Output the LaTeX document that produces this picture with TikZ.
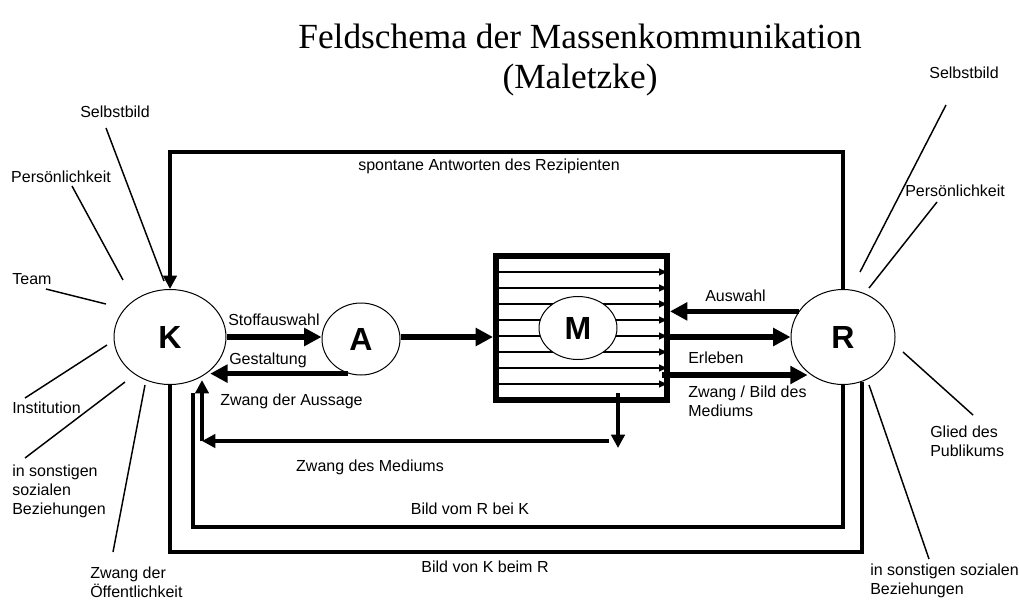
\documentclass[tikz,border=0pt]{standalone}
\usepackage{fontspec}
\setmainfont{Liberation Sans}
\newfontfamily\titlefont{Liberation Serif}
\usetikzlibrary{arrows.meta,shapes.geometric}
\begin{document}
\begin{tikzpicture}[x=0.75pt,y=-0.75pt,
  lbl/.style={font=\fontsize{12}{14.25}\selectfont, inner sep=0pt},
  lblw/.style={lbl, anchor=west, align=left},
  big/.style={ellipse, draw, line width=0.75pt, fill=white, inner sep=0pt, font=\fontsize{24}{28}\selectfont\bfseries},
  thinline/.style={line width=1.1pt},
  heavy/.style={line width=4pt, -{Triangle[length=13pt,width=13pt]}},
  medium/.style={line width=2.5pt, -{Triangle[length=10pt,width=10pt]}},
  loopline/.style={line width=3pt},
  innerline/.style={line width=1.5pt, -{Triangle[length=6pt,width=5pt]}},
  boxframe/.style={draw, line width=4.5pt, inner sep=0pt}
]
\useasboundingbox (0,0) rectangle (1019,604);

% title
\node[font=\titlefont\fontsize{26.5}{30}\selectfont, align=center, inner sep=0pt] (title) at (580,60)
  {Feldschema der Massenkommunikation\\(Maletzke)};

% main nodes
\node[big, minimum width=84pt, minimum height=71.25pt] (K) at (170,337) {K};
\node[big, minimum width=58.5pt, minimum height=54pt] (A) at (361,339) {A};
\node[big, minimum width=78pt, minimum height=71.25pt] (R) at (843,337) {R};

% medium box with inner lines
\foreach \yy in {272,288,...,384} {
  \draw[innerline] (499,\yy) -- (667,\yy);
}
\node[big, minimum width=58.5pt, minimum height=47.25pt] (M) at (578,328) {M};
\node[boxframe, minimum width=128.25pt, minimum height=108pt] (Mbox) at (581.5,328) {};

% K -> A -> M
\draw[heavy] (K.east |- 0,337) -- (A.west |- 0,337);
\node[lblw] (stoff) at (228,320) {Stoffauswahl};
\draw[heavy] (A.east |- 0,337) -- (Mbox.west |- 0,337);

% A -> K (Gestaltung)
\draw[heavy] (A.250) -- (A.250 -| K.-40);
\node[lblw] (gest) at (229,360) {Gestaltung};
\node[lblw] (aussage) at (220,401) {Zwang der Aussage};

% Zwang des Mediums
\coordinate (c1) at (202,441);
\coordinate (c2) at (609,441);
\draw[medium] (c1) -- (K.-60 -| c1);
\draw[medium] (c2) -- (c1);
\coordinate (d1) at (618,393);
\coordinate (d2) at (618,448);
\draw[medium] (d1) -- (d2);
\node[lbl] (zdm) at (370,467) {Zwang des Mediums};

% R <-> M
\draw[heavy] (R.150) -- (R.150 -| Mbox.east);
\node[lblw] (ausw) at (705,296) {Auswahl};
\draw[heavy] (Mbox.east |- R.west) -- (R.west);
\node[lblw] (erl) at (688,358) {Erleben};
\coordinate (zb) at (662,375);
\draw[heavy] (zb) -- (zb -| R.225);
\node[lblw] (zbm) at (688,401) {Zwang / Bild des\\Mediums};

% top feedback loop
\draw[line width=2.5pt, -{Triangle[length=10pt,width=10pt]}] (R.north) -- (R.north |- 0,152) -| (K.north);
\node[lbl] (spont) at (489,166) {spontane Antworten des Rezipienten};

% bottom loops
\coordinate (bvr) at (193,393);
\draw[loopline] (R.south) -- (R.south |- 0,527) -| (bvr);
\node[lbl] (bvrk) at (470,509) {Bild vom R bei K};
\draw[loopline] (K.south) -- (K.south |- 0,552) -| (R.-67);
\node[lbl] (bvkr) at (485,567) {Bild von K beim R};

% left labels
\node[lbl] (lsb) at (115,112) {Selbstbild};
\draw[thinline] (106,128) -- (164,281);
\node[lbl] (lpers) at (61,177) {Persönlichkeit};
\draw[thinline] (72,186) -- (123,280);
\node[lbl] (lteam) at (32,279) {Team};
\draw[thinline] (46,289) -- (106,304);
\node[lblw] (linst) at (12,408) {Institution};
\draw[thinline] (25,398) -- (107,345);
\node[lblw] (lsoz) at (12,491) {in sonstigen\\sozialen\\Beziehungen};
\draw[thinline] (25,458) -- (125,382);
\node[lblw] (loeff) at (90,582) {Zwang der\\Öffentlichkeit};
\draw[thinline] (113,552) -- (145,385);

% right labels
\node[lbl] (rsb) at (964,73) {Selbstbild};
\draw[thinline] (946,105) -- (860,272);
\node[lblw] (rpers) at (905,191) {Persönlichkeit};
\draw[thinline] (937,202) -- (869,288);
\node[lblw] (rglied) at (930,441) {Glied des\\Publikums};
\draw[thinline] (903,352) -- (973,415);
\node[lblw] (rsoz) at (870,581) {in sonstigen sozialen\\Beziehungen};
\draw[thinline] (869,385) -- (929,559);
\end{tikzpicture}
\end{document}
